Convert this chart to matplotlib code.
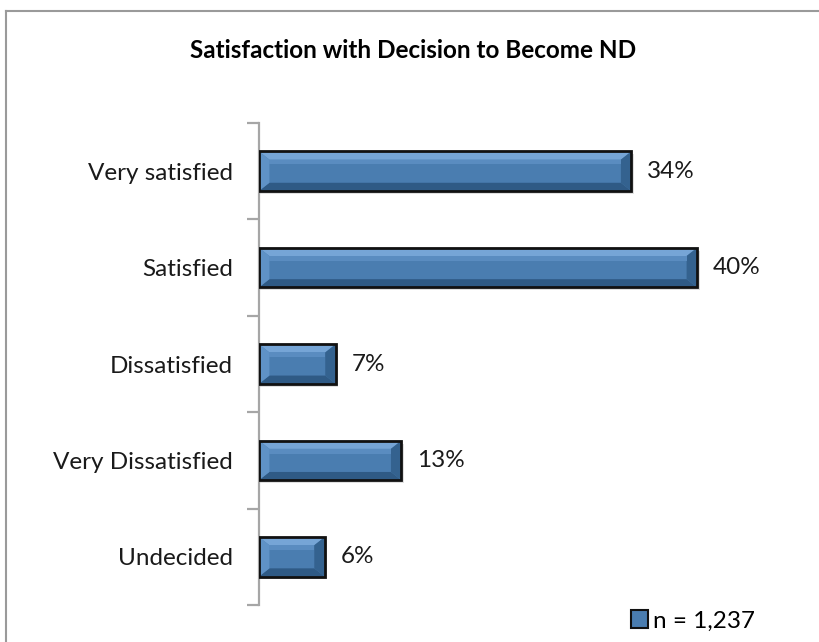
import matplotlib
matplotlib.use("Agg")
import matplotlib.pyplot as plt
from matplotlib.patches import Polygon, Rectangle, Patch
from matplotlib.lines import Line2D

categories = ["Very satisfied", "Satisfied", "Dissatisfied", "Very Dissatisfied", "Undecided"]
values = [34, 40, 7, 13, 6]
value_labels = ["34%", "40%", "7%", "13%", "6%"]
title = "Satisfaction with Decision to Become ND"
legend_label = "n = 1,237"

FONT = "Lato"
FS = 17.5
W, H = 820, 642
fig = plt.figure(figsize=(W / 100, H / 100), dpi=100)
fig.patch.set_facecolor("white")

# outer chart border (top and left visible)
fig.add_artist(Line2D([6 / W, 6 / W], [1 - 11 / H, -0.1], color="#9a9a9a", lw=1.5,
                      transform=fig.transFigure))
fig.add_artist(Line2D([6 / W, 1.1], [1 - 11 / H, 1 - 11 / H], color="#9a9a9a", lw=1.5,
                      transform=fig.transFigure))

left, right = 259 / W, 806 / W
top, bottom = 1 - 123 / H, 1 - 605 / H
ax = fig.add_axes([left, bottom, right - left, top - bottom])
xmax = (806 - 259) / 10.95
ax.set_xlim(0, xmax)
ax.set_ylim(len(categories) - 0.5, -0.5)

bar_h = 0.41
base = "#4a7db0"
light = "#76a5d6"
dark = "#2f5a85"
side_l = "#5f92c6"
side_r = "#34628f"

ys = list(range(len(categories)))
# shadows
for y, v in zip(ys, values):
    ax.add_patch(Rectangle((0, y - bar_h / 2 + 0.03), v + 0.25, bar_h, facecolor="#000000",
                           alpha=0.12, edgecolor="none", zorder=1))
bars = ax.barh(ys, values, height=bar_h, color=base, edgecolor="none", zorder=2)

bx = 0.95   # bevel depth in x units
by = 0.085  # bevel depth in y units
for bar in bars:
    x0, y0 = bar.get_x(), bar.get_y()
    w, h = bar.get_width(), bar.get_height()
    x1, y1 = x0 + w, y0 + h
    top_f = Polygon([(x0, y0), (x1, y0), (x1 - bx, y0 + by), (x0 + bx, y0 + by)],
                    closed=True, facecolor=light, edgecolor="none", zorder=3)
    bot_f = Polygon([(x0, y1), (x1, y1), (x1 - bx, y1 - by), (x0 + bx, y1 - by)],
                    closed=True, facecolor=dark, edgecolor="none", zorder=3)
    l_f = Polygon([(x0, y0), (x0 + bx, y0 + by), (x0 + bx, y1 - by), (x0, y1)],
                  closed=True, facecolor=side_l, edgecolor="none", zorder=3)
    r_f = Polygon([(x1, y0), (x1 - bx, y0 + by), (x1 - bx, y1 - by), (x1, y1)],
                  closed=True, facecolor=side_r, edgecolor="none", zorder=3)
    for p in (top_f, bot_f, l_f, r_f):
        ax.add_patch(p)
    ax.add_patch(Rectangle((x0 + bx, y0 + by), w - 2 * bx, h * 0.12, facecolor="#5a8cc0",
                           edgecolor="none", zorder=3))
    ax.add_patch(Rectangle((x0, y0), w, h, facecolor="none", edgecolor="#111111",
                           lw=2.0, zorder=4))

for y, v, lab in zip(ys, values, value_labels):
    ax.annotate(lab, (v, y), xytext=(16, 0), textcoords="offset pixels",
                va="center", ha="left", fontsize=FS, family=FONT, color="#1a1a1a")

# axes styling
for s in ("top", "right", "bottom"):
    ax.spines[s].set_visible(False)
ax.spines["left"].set_color("#a6a6a6")
ax.spines["left"].set_linewidth(1.6)
ax.set_xticks([])
ax.set_yticks([i - 0.5 for i in range(len(categories) + 1)])
ax.set_yticklabels([])
ax.tick_params(axis="y", which="major", length=9, width=1.6, color="#a6a6a6", direction="out")
ax.set_yticks(ys, minor=True)
ax.set_yticklabels(categories, minor=True, fontsize=FS, family=FONT, color="#1a1a1a")
ax.tick_params(axis="y", which="minor", length=0, pad=19)

fig.text(413 / W, 1 - 51 / H, title, ha="center", va="center", fontsize=17.5,
         fontweight="bold", family=FONT, color="#000000")

handle = Patch(facecolor=base, edgecolor="#111111", linewidth=1.5)
leg = fig.legend([handle], [legend_label], loc="center left",
                 bbox_to_anchor=(631 / W, 1 - 621 / H), frameon=False,
                 handlelength=0.7, handleheight=0.7, handletextpad=0.2,
                 prop={"family": FONT, "size": FS}, borderpad=0, borderaxespad=0)

fig.savefig("out.png", dpi=100, facecolor="white")
